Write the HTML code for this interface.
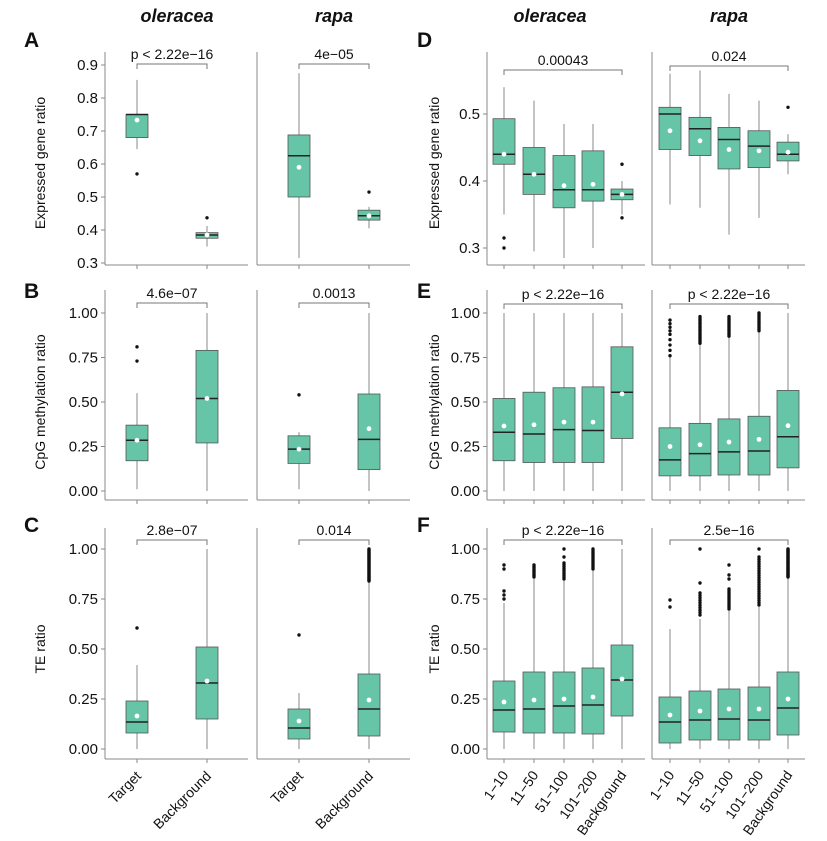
<!DOCTYPE html>
<html><head><meta charset="utf-8"><style>
body{margin:0;background:#fff}
svg{display:block;font-family:"Liberation Sans",Arial,sans-serif}
</style></head><body>
<svg id="s" width="827" height="841" viewBox="0 0 827 841" xmlns="http://www.w3.org/2000/svg">
<g font-size="21" font-weight="bold" fill="#111">
<text x="24" y="47">A</text><text x="24" y="298">B</text><text x="24" y="532">C</text>
<text x="417" y="47">D</text><text x="417" y="298">E</text><text x="417" y="532">F</text>
</g>
<g font-size="18" font-weight="bold" font-style="italic" text-anchor="middle" fill="#111">
<text x="177" y="22">oleracea</text><text x="334" y="22">rapa</text>
<text x="550" y="22">oleracea</text><text x="729" y="22">rapa</text>
</g>
<g font-size="14" fill="#111" text-anchor="middle">
<text transform="translate(45,163) rotate(-90)">Expressed gene ratio</text>
<text transform="translate(45,402) rotate(-90)">CpG methylation ratio</text>
<text transform="translate(45,649) rotate(-90)">TE ratio</text>
<text transform="translate(439,163) rotate(-90)">Expressed gene ratio</text>
<text transform="translate(439,402) rotate(-90)">CpG methylation ratio</text>
<text transform="translate(439,649) rotate(-90)">TE ratio</text>
</g>
</svg>
<script>
var S=document.getElementById('s'),NS='http://www.w3.org/2000/svg';
function el(t,a,txt){var e=document.createElementNS(NS,t);for(var k in a)e.setAttribute(k,a[k]);if(txt!==undefined)e.textContent=txt;S.appendChild(e);return e;}
function line(x1,y1,x2,y2,c,w){el('line',{x1:x1,y1:y1,x2:x2,y2:y2,stroke:c||'#777','stroke-width':w||1});}
var rows={
A:{top:52,bot:265,f:function(v){return 263-(v-0.3)*330},ticks:[[0.3,'0.3'],[0.4,'0.4'],[0.5,'0.5'],[0.6,'0.6'],[0.7,'0.7'],[0.8,'0.8'],[0.9,'0.9']]},
B:{top:290,bot:500,f:function(v){return 491-v*178},ticks:[[0,'0.00'],[0.25,'0.25'],[0.5,'0.50'],[0.75,'0.75'],[1,'1.00']]},
C:{top:528,bot:759,f:function(v){return 749-v*200},ticks:[[0,'0.00'],[0.25,'0.25'],[0.5,'0.50'],[0.75,'0.75'],[1,'1.00']]},
D:{top:52,bot:265,f:function(v){return 248-(v-0.3)*670},ticks:[[0.3,'0.3'],[0.4,'0.4'],[0.5,'0.5']]}
};
rows.E=rows.B;rows.F=rows.C;
function panel(r,x0,x1,ticks,xs,boxes,br,lab,labels){
 var R=rows[r];
 line(x0,R.top,x0,R.bot,'#888');line(x0,R.bot,x1,R.bot,'#888');
 if(ticks){R.ticks.forEach(function(t){var y=R.f(t[0]);line(x0-4,y,x0,y,'#888');el('text',{x:x0-7,y:y+5,'font-size':15,'text-anchor':'end',fill:'#111'},t[1]);});}
 xs.forEach(function(x){line(x,R.bot,x,R.bot+4,'#888');});
 var by=br[0];
 el('polyline',{points:xs[0]+','+(by+5)+' '+xs[0]+','+by+' '+xs[xs.length-1]+','+by+' '+xs[xs.length-1]+','+(by+5),fill:'none',stroke:'#777','stroke-width':1});
 el('text',{x:(xs[0]+xs[xs.length-1])/2,y:by-5,'font-size':14,'text-anchor':'middle',fill:'#111'},lab);
 boxes.forEach(function(b,i){var x=xs[i],f=R.f,w=11;
  line(x,f(b[3]),x,f(b[4]),'#888');
  el('rect',{x:x-w,y:f(b[2]),width:2*w,height:f(b[0])-f(b[2]),fill:'#66c5a7',stroke:'#555','stroke-width':0.8});
  line(x-w,f(b[1]),x+w,f(b[1]),'#222',1.5);
  (b[6]||[]).forEach(function(o){el('circle',{cx:x,cy:f(o),r:1.7,fill:'#111'});});
  el('circle',{cx:x,cy:f(b[5]),r:2.4,fill:'#fff'});
 });
 if(labels){labels.forEach(function(t,i){el('text',{transform:'translate('+(xs[i]+5)+','+(R.bot+16)+') rotate(-55)','font-size':14,'text-anchor':'end',fill:'#111'},t);});}
}
function rng(a,b,n){var r=[];for(var i=0;i<n;i++)r.push(a+(b-a)*i/(n-1));return r;}
var L1=[137,207],L2=[299,369],R1=[504,534,564,593,622],R2=[670,700,729,759,788];
panel('A',105,248,true,L1,[[.68,.75,.75,.645,.855,.733,[.57]],[.375,.385,.392,.35,.412,.385,[.437]]],[64],'p < 2.22e\u221216');
panel('A',257,410,false,L2,[[.5,.625,.688,.315,.875,.59],[.43,.443,.46,.405,.47,.443,[.515]]],[64],'4e\u221205');
panel('B',105,248,true,L1,[[.17,.285,.37,.01,.55,.285,[.73,.81]],[.27,.52,.79,0,1,.52]],[303],'4.6e\u221207');
panel('B',257,410,false,L2,[[.155,.235,.31,.01,.33,.235,[.54]],[.12,.29,.545,0,1,.35]],[303],'0.0013');
panel('C',105,248,true,L1,[[.08,.135,.24,0,.42,.165,[.605]],[.15,.33,.51,0,1,.34]],[540],'2.8e\u221207');
panel('C',257,410,false,L2,[[.05,.105,.2,0,.28,.14,[.57]],[.065,.2,.375,0,.84,.245,rng(.84,1,40)]],[540],'0.014',null);
panel('D',487,645,true,R1,[[.425,.44,.493,.35,.54,.44,[.3,.315]],[.38,.41,.45,.295,.52,.41],[.36,.387,.438,.285,.485,.393],[.37,.387,.445,.3,.485,.395],[.372,.38,.388,.35,.4,.38,[.345,.425]]],[70],'0.00043');
panel('D',652,805,false,R2,[[.447,.5,.51,.365,.56,.475],[.438,.478,.495,.36,.565,.46],[.418,.462,.48,.32,.53,.447],[.42,.452,.475,.345,.52,.445],[.43,.44,.458,.41,.47,.443,[.51]]],[66],'0.024');
panel('E',487,645,true,R1,[[.17,.33,.52,0,1,.365],[.16,.32,.555,0,1,.372],[.16,.345,.58,0,1,.387],[.16,.34,.585,0,1,.387],[.295,.555,.81,0,1,.545]],[304],'p < 2.22e\u221216');
panel('E',652,805,false,R2,[[.085,.175,.355,0,.75,.25,[.76,.79,.82,.85,.88,.9,.92,.94,.96]],[.085,.21,.38,0,.82,.26,rng(.83,.98,20)],[.09,.22,.405,0,.87,.275,rng(.87,.98,15)],[.09,.225,.42,0,.9,.29,rng(.9,1,12)],[.13,.305,.565,0,1,.367]],[304],'p < 2.22e\u221216');
panel('F',487,645,true,R1,[[.085,.195,.34,0,.73,.235,[.75,.77,.79,.9,.92]],[.08,.2,.385,0,.85,.245,rng(.86,.92,10)],[.08,.215,.385,0,.84,.25,rng(.85,.93,10).concat([.96,1])],[.075,.22,.405,0,.89,.26,rng(.9,1,14)],[.165,.345,.52,0,1,.35]],[540],'p < 2.22e\u221216',['1\u221210','11\u221250','51\u2212100','101\u2212200','Background']);
panel('F',652,805,false,R2,[[.03,.135,.26,0,.6,.17,[.71,.745]],[.045,.145,.29,0,.65,.19,rng(.67,.78,10).concat([.83,1])],[.045,.15,.3,0,.69,.2,rng(.7,.8,12).concat([.85,.87,.92])],[.045,.145,.31,0,.71,.2,rng(.72,.96,22).concat([1])],[.07,.205,.385,0,.86,.25,rng(.86,1,40)]],[540],'2.5e\u221216',['1\u221210','11\u221250','51\u2212100','101\u2212200','Background']);
[L1,L2].forEach(function(xs){['Target','Background'].forEach(function(t,i){el('text',{transform:'translate('+(xs[i]+5)+','+(777)+') rotate(-45)','font-size':14,'text-anchor':'end',fill:'#111'},t);});});
</script>
</body></html>
